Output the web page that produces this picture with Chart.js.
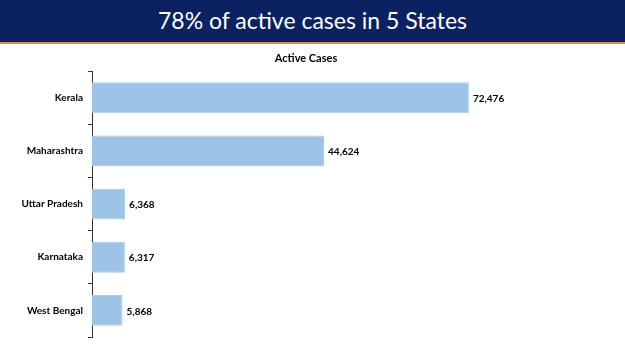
<!DOCTYPE html>
<html>
<head>
<meta charset="utf-8">
<script src="https://cdn.jsdelivr.net/npm/chart.js@4"></script>
<style>
  html, body { margin: 0; padding: 0; background: #fff; }
  body { width: 625px; height: 351px; overflow: hidden; font-family: Lato, sans-serif; }
  #header {
    height: 42px;
    background: #0b2262;
    border-bottom: 2px solid #e0874a;
    color: #fff;
    font-size: 23px;
    line-height: 41px;
    text-align: center;
  }
  #wrap { position: relative; width: 625px; height: 307px; }
</style>
</head>
<body>
<div id="header">78% of active cases in 5 States</div>
<div id="wrap"><canvas id="myChart"></canvas></div>
<script>
// data
const states = ["Kerala", "Maharashtra", "Uttar Pradesh", "Karnataka", "West Bengal"];
const active_cases = [72476, 44624, 6368, 6317, 5868];
const chart_title = "Active Cases";

// value labels at the end of each bar
const valueLabels = {
    id: "valueLabels",
    afterDatasetsDraw(chart) {
        const ctx = chart.ctx;
        ctx.save();
        ctx.font = "bold 10px Lato";
        ctx.fillStyle = "#000";
        ctx.textBaseline = "middle";
        chart.getDatasetMeta(0).data.forEach((bar, i) => {
            ctx.fillText(active_cases[i].toLocaleString("en-US"), bar.x + 4, bar.y + 1);
        });
        ctx.restore();
    },
};

const data = {
    labels: states,
    datasets: [
        {
            label: chart_title,
            backgroundColor: "#9dc3e6",
            borderColor: "#a9cbea",
            borderWidth: 1,
            data: active_cases,
            categoryPercentage: 1,
            barPercentage: 0.58,
        },
    ],
};

const config = {
    type: "bar",
    data: data,
    options: {
        indexAxis: "y",
        responsive: true,
        maintainAspectRatio: false,
        animation: false,
        layout: { padding: { top: 0, right: 13, bottom: 14, left: 0 } },
        plugins: {
            legend: { display: false },
            tooltip: { enabled: false },
            title: {
                display: true,
                text: chart_title,
                color: "#000",
                font: { family: "Lato", size: 11, weight: "bold" },
                padding: { top: 8, bottom: 6 },
            },
        },
        scales: {
            x: { display: false, min: 0, max: 100000 },
            y: {
                afterFit(scale) { scale.width = 92; },
                border: { display: true, color: "#333", width: 1 },
                grid: { drawOnChartArea: false, drawTicks: true, tickLength: 4, color: "#333" },
                ticks: { color: "#000", padding: 5, font: { family: "Lato", size: 10, weight: "bold" } },
            },
        },
    },
    plugins: [valueLabels],
};
const myChart = new Chart(document.getElementById("myChart"), config);
</script>
</body>
</html>
